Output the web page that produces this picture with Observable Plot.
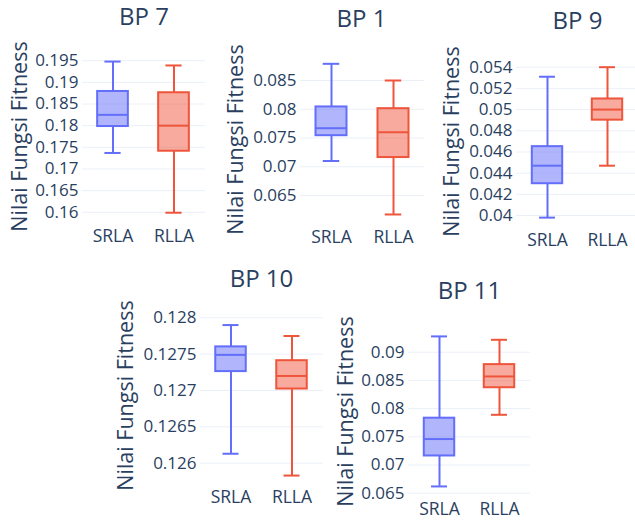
<!DOCTYPE html>
<html>
<head>
<meta charset="utf-8">
<script src="https://cdn.jsdelivr.net/npm/d3@7"></script>
<script src="https://cdn.jsdelivr.net/npm/@observablehq/plot@0.6"></script>
<style>
  html, body { margin: 0; padding: 0; background: #fff; overflow: hidden; }
  #chart { position: relative; width: 635px; height: 520px; background: #fff; }
  #chart svg { position: absolute; }
</style>
</head>
<body>
<div id="chart"></div>
<script>
// ---- data ----
const titles = ["BP 7", "BP 1", "BP 9", "BP 10", "BP 11"];
const methods = ["SRLA", "RLLA"];
const yTitle = "Nilai Fungsi Fitness";

const srlaMin    = [0.1737, 0.0710, 0.0398, 0.12613, 0.0662];
const srlaQ1     = [0.1798, 0.0754, 0.0430, 0.12726, 0.0716];
const srlaMedian = [0.1825, 0.0767, 0.0447, 0.12749, 0.0746];
const srlaQ3     = [0.1879, 0.0804, 0.0465, 0.12760, 0.0783];
const srlaMax    = [0.1948, 0.0879, 0.0531, 0.12790, 0.0928];

const rllaMin    = [0.1599, 0.0617, 0.0447, 0.12583, 0.0789];
const rllaQ1     = [0.1741, 0.0716, 0.0490, 0.12702, 0.0837];
const rllaMedian = [0.1800, 0.0760, 0.0500, 0.12720, 0.0857];
const rllaQ3     = [0.1876, 0.0801, 0.0510, 0.12741, 0.0878];
const rllaMax    = [0.1939, 0.0850, 0.0540, 0.12775, 0.0922];

const ticksBP7  = [0.16, 0.165, 0.17, 0.175, 0.18, 0.185, 0.19, 0.195];
const ticksBP1  = [0.065, 0.07, 0.075, 0.08, 0.085];
const ticksBP9  = [0.04, 0.042, 0.044, 0.046, 0.048, 0.05, 0.052, 0.054];
const ticksBP10 = [0.126, 0.1265, 0.127, 0.1275, 0.128];
const ticksBP11 = [0.065, 0.07, 0.075, 0.08, 0.085, 0.09];
const panelTicks = [ticksBP7, ticksBP1, ticksBP9, ticksBP10, ticksBP11];

// ---- styles / layout (page pixels) ----
const colors = {SRLA: "#636efa", RLLA: "#ef553b"};
const textColor = "#2a3f5f";
const gridColor = "#ebf0f8";
const font = "'Open Sans', sans-serif";
const layout = [
  {svg: [0, 0, 212, 256],   frame: [82, 205, 48, 220],   band: [82, 204.6],    yPx: [211.8, 60.2], title: [143.5, 17], yLab: [20, 136],  xLabelTop: 229},
  {svg: [212, 0, 212, 256], frame: [300, 424, 48, 222],  band: [300, 424],     yPx: [195, 80],     title: [361, 19],   yLab: [236, 139], xLabelTop: 230},
  {svg: [424, 0, 211, 256], frame: [516, 635, 48, 224],  band: [516.4, 637.6], yPx: [215, 66.7],   title: [577, 21],   yLab: [452, 141], xLabelTop: 233},
  {svg: [100, 258, 226, 262], frame: [200, 323, 305, 480], band: [199.75, 322.75], yPx: [462.7, 317.3], title: [261, 279], yLab: [126, 395], xLabelTop: 490},
  {svg: [330, 258, 210, 262], frame: [408, 530, 318, 494], band: [408.4, 529.5], yPx: [492.7, 351.7], title: [469, 291], yLab: [346, 411], xLabelTop: 502}
];

const stats = {
  SRLA: {lo: srlaMin, q1: srlaQ1, med: srlaMedian, q3: srlaQ3, hi: srlaMax},
  RLLA: {lo: rllaMin, q1: rllaQ1, med: rllaMedian, q3: rllaQ3, hi: rllaMax}
};

const chart = document.getElementById("chart");

titles.forEach((title, i) => {
  const L = layout[i];
  const [sx, sy, sw, sh] = L.svg;
  const [fl, fr, ft, fb] = L.frame;
  const ticks = panelTicks[i];
  const rows = methods.map(m => ({
    method: m,
    lo: stats[m].lo[i], q1: stats[m].q1[i], med: stats[m].med[i],
    q3: stats[m].q3[i], hi: stats[m].hi[i]
  }));
  const bw = (L.band[1] - L.band[0]) / 2;
  const boxInset = (bw - 31) / 2;
  const capInset = (bw - 16.5) / 2;
  const frameMidX = (fl + fr) / 2;
  const frameMidY = (ft + fb) / 2;

  const svg = Plot.plot({
    width: sw,
    height: sh,
    marginLeft: fl - sx,
    marginRight: sx + sw - fr,
    marginTop: ft - sy,
    marginBottom: sy + sh - fb,
    style: {background: "transparent", overflow: "visible", fontFamily: font, color: textColor, left: sx + "px", top: sy + "px", maxWidth: "none"},
    x: {type: "band", domain: methods, range: [L.band[0] - sx, L.band[1] - sx], padding: 0, label: null},
    y: {domain: [ticks[0], ticks[ticks.length - 1]], range: [L.yPx[0] - sy, L.yPx[1] - sy], label: null},
    marks: [
      Plot.gridY(ticks, {stroke: gridColor, strokeOpacity: 1, strokeWidth: 1}),
      Plot.axisY(ticks, {tickSize: 0, tickPadding: 4, fontSize: 17, tickFormat: d => String(d), fill: textColor, label: null}),
      Plot.axisX({tickSize: 0, tickPadding: L.xLabelTop - fb, fontSize: 17.5, fill: textColor, label: null}),
      Plot.ruleX(rows, {x: "method", y1: "lo", y2: "q1", stroke: d => colors[d.method], strokeWidth: 2}),
      Plot.ruleX(rows, {x: "method", y1: "q3", y2: "hi", stroke: d => colors[d.method], strokeWidth: 2}),
      Plot.barY(rows, {x: "method", y1: "q1", y2: "q3", fill: d => colors[d.method], fillOpacity: 0.5,
        stroke: d => colors[d.method], strokeWidth: 2, insetLeft: boxInset, insetRight: boxInset}),
      Plot.tickY(rows, {x: "method", y: "med", stroke: d => colors[d.method], strokeWidth: 2, insetLeft: boxInset, insetRight: boxInset}),
      Plot.tickY(rows, {x: "method", y: "lo", stroke: d => colors[d.method], strokeWidth: 2, insetLeft: capInset, insetRight: capInset}),
      Plot.tickY(rows, {x: "method", y: "hi", stroke: d => colors[d.method], strokeWidth: 2, insetLeft: capInset, insetRight: capInset}),
      Plot.text([title], {frameAnchor: "top", dx: L.title[0] - frameMidX, dy: L.title[1] - ft,
        fontSize: 24, fill: textColor, lineAnchor: "middle", textAnchor: "middle"}),
      Plot.text([yTitle], {frameAnchor: "left", rotate: -90, dx: L.yLab[0] - fl, dy: L.yLab[1] - frameMidY,
        fontSize: 21.5, fill: textColor, lineAnchor: "middle", textAnchor: "middle"})
    ],
    color: {type: "identity"}
  });
  chart.appendChild(svg);
});
</script>
</body>
</html>
